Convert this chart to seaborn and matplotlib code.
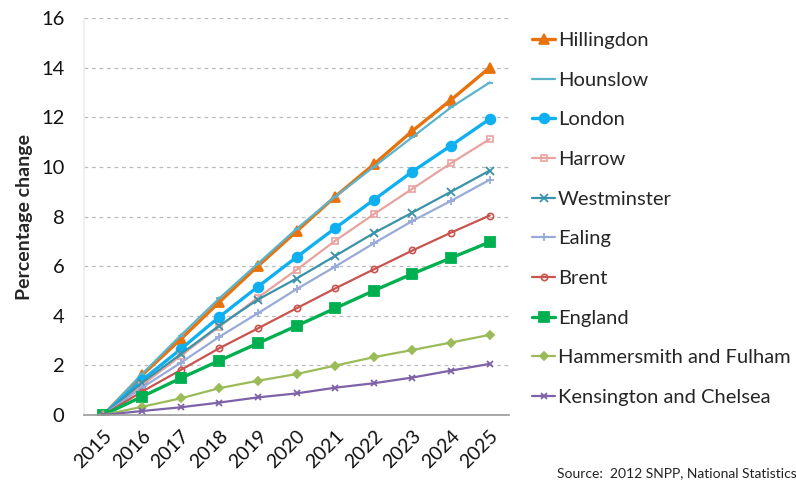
import matplotlib
matplotlib.use("Agg")
import matplotlib.pyplot as plt
import seaborn as sns
import pandas as pd
import numpy as np

years = ["2015", "2016", "2017", "2018", "2019", "2020", "2021", "2022", "2023", "2024", "2025"]

hillingdon = [0, 1.6, 3.05, 4.55, 6.0, 7.4, 8.8, 10.1, 11.45, 12.7, 14.0]
hounslow = [0, 1.65, 3.2, 4.7, 6.1, 7.5, 8.8, 10.0, 11.2, 12.4, 13.4]
london = [0, 1.4, 2.65, 3.95, 5.17, 6.36, 7.53, 8.67, 9.81, 10.86, 11.93]
harrow = [0, 1.2, 2.38, 3.56, 4.73, 5.85, 7.02, 8.09, 9.12, 10.15, 11.12]
westminster = [0, 1.3, 2.45, 3.6, 4.65, 5.5, 6.41, 7.33, 8.16, 9.0, 9.85]
ealing = [0, 1.1, 2.1, 3.15, 4.1, 5.07, 5.98, 6.92, 7.82, 8.63, 9.48]
brent = [0, 0.94, 1.81, 2.69, 3.49, 4.3, 5.1, 5.87, 6.63, 7.35, 8.04]
england = [0, 0.74, 1.48, 2.19, 2.89, 3.59, 4.3, 5.01, 5.69, 6.33, 6.97]
hammersmith = [0, 0.33, 0.67, 1.08, 1.38, 1.65, 1.99, 2.33, 2.62, 2.92, 3.23]
kensington = [0, 0.16, 0.31, 0.5, 0.71, 0.87, 1.1, 1.28, 1.51, 1.79, 2.06]

series_names = ["Hillingdon", "Hounslow", "London", "Harrow", "Westminster", "Ealing",
                "Brent", "England", "Hammersmith and Fulham", "Kensington and Chelsea"]
series_values = [hillingdon, hounslow, london, harrow, westminster, ealing,
                 brent, england, hammersmith, kensington]

styles = {
    "Hillingdon": dict(color="#E8720C", marker="^", ms=7.5, lw=2.4, mfc=None),
    "Hounslow": dict(color="#5BB3CB", marker="_", ms=5, lw=1.6, mfc=None),
    "London": dict(color="#10B0F0", marker="o", ms=7, lw=2.4, mfc=None),
    "Harrow": dict(color="#E8A3A0", marker="s", ms=5, lw=1.6, mfc="none"),
    "Westminster": dict(color="#3A93A8", marker="x", ms=6, lw=1.6, mfc=None),
    "Ealing": dict(color="#98AAD8", marker="+", ms=6, lw=1.6, mfc=None),
    "Brent": dict(color="#C9534F", marker="o", ms=4.5, lw=1.6, mfc="none"),
    "England": dict(color="#00B050", marker="s", ms=6.5, lw=2.4, mfc=None),
    "Hammersmith and Fulham": dict(color="#9BBB59", marker="D", ms=4, lw=1.6, mfc=None),
    "Kensington and Chelsea": dict(color="#7E62A8", marker="x", ms=5, lw=1.6, mfc=None),
}

rows = []
for name, vals in zip(series_names, series_values):
    for i, v in enumerate(vals):
        rows.append({"series": name, "x": i, "year": years[i], "value": v})
df = pd.DataFrame(rows)

sns.set_theme(style="white")
plt.rcParams["font.family"] = ["Lato", "DejaVu Sans"]

fig = plt.figure(figsize=(7.96, 4.84), dpi=100)
ax = fig.add_axes([84 / 796, 1 - 415 / 484, (509 - 84) / 796, (415 - 18) / 484])

for name in series_names:
    st = styles[name]
    sub = df[df["series"] == name]
    kw = dict(marker=st["marker"], markersize=st["ms"], linewidth=st["lw"],
              color=st["color"], markeredgecolor=st["color"])
    if st["mfc"] is not None:
        kw["markerfacecolor"] = st["mfc"]
        kw["markeredgewidth"] = 1.2
    else:
        kw["markeredgewidth"] = 1.3
    sns.lineplot(data=sub, x="x", y="value", ax=ax, label=name, **kw)

ax.set_xlim(-0.5, 10.5)
ax.set_ylim(0, 16)
ax.set_yticks(np.arange(0, 17, 2))
ax.set_yticklabels([str(v) for v in range(0, 17, 2)], fontsize=14.5, color="#111111")
ax.yaxis.grid(True, linestyle=(0, (3, 3)), color="#BBBBBB", linewidth=0.9)
ax.set_axisbelow(True)
ax.set_xticks(range(len(years)))
ax.set_xticklabels(years, rotation=45, ha="right", rotation_mode="anchor", fontsize=14,
                   color="#111111")
ax.set_xticks(np.arange(-0.5, 11, 1), minor=True)
ax.tick_params(axis="x", which="major", length=0, pad=9)
ax.tick_params(axis="x", which="minor", length=5, color="#999999", width=1, direction="out")
ax.tick_params(axis="y", length=0, pad=14)
for s in ["top", "right"]:
    ax.spines[s].set_visible(False)
ax.spines["left"].set_color("#EEEEEE")
ax.spines["bottom"].set_color("#999999")
ax.spines["bottom"].set_linewidth(1.2)
ax.set_xlabel("")
ax.set_ylabel("Percentage change", fontsize=14, fontweight="bold", labelpad=6)

handles, labels = ax.get_legend_handles_labels()
ax.get_legend().remove()
fig.legend(handles, labels, loc="upper left", bbox_to_anchor=(532 / 796, 1 - 32 / 484),
           frameon=False, fontsize=14.5, labelspacing=1.12, handlelength=1.15,
           handletextpad=0.15, borderaxespad=0, borderpad=0)

fig.text(557 / 796, 1 - 477 / 484, "Source:  2012 SNPP, National Statistics", fontsize=10,
         va="baseline", ha="left", color="#222222")

fig.savefig("out.png", dpi=100)
